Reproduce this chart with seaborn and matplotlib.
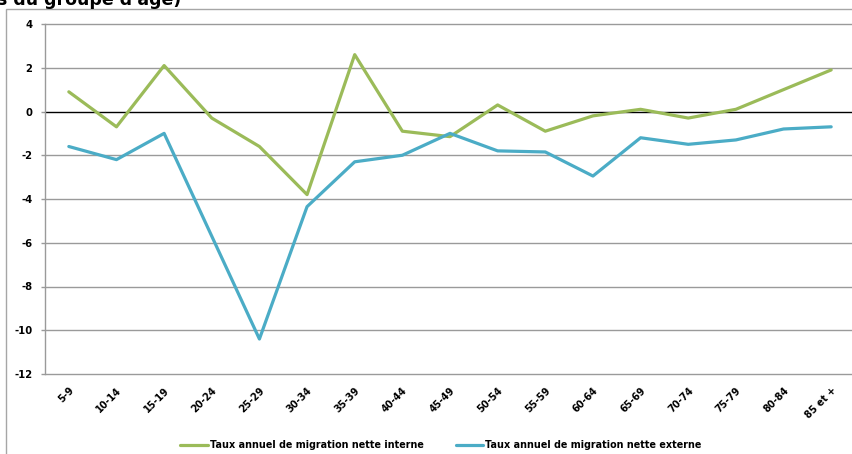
import matplotlib
matplotlib.use("Agg")
import matplotlib.pyplot as plt
from matplotlib.patches import Rectangle
from matplotlib.lines import Line2D
import numpy as np
import pandas as pd
import seaborn as sns

# Age groups and annual net migration rates
age_groups = ["5-9", "10-14", "15-19", "20-24", "25-29", "30-34", "35-39",
              "40-44", "45-49", "50-54", "55-59", "60-64", "65-69", "70-74",
              "75-79", "80-84", "85 et +"]
internal_rate = [0.9, -0.7, 2.1, -0.3, -1.6, -3.8, 2.6, -0.9, -1.15, 0.3,
                 -0.9, -0.2, 0.1, -0.3, 0.1, 1.0, 1.9]
external_rate = [-1.6, -2.2, -1.0, -5.7, -10.4, -4.35, -2.3, -2.0, -1.0, -1.8,
                 -1.85, -2.95, -1.2, -1.5, -1.3, -0.8, -0.7]
series_names = ["Taux annuel de migration nette interne",
                "Taux annuel de migration nette externe"]
y_ticks = [4, 2, 0, -2, -4, -6, -8, -10, -12]

GREEN = "#9BBB59"
BLUE = "#4BACC6"
GRID = "#9a9a9a"

pos = np.arange(len(age_groups))
df = pd.concat([
    pd.DataFrame({"pos": pos, "taux": internal_rate, "serie": series_names[0]}),
    pd.DataFrame({"pos": pos, "taux": external_rate, "serie": series_names[1]}),
])

sns.set_theme(style="white")
plt.rcParams["font.family"] = ["DejaVu Sans"]
plt.rcParams["text.color"] = "black"
plt.rcParams["xtick.color"] = "black"
plt.rcParams["ytick.color"] = "black"

fig = plt.figure(figsize=(8.53, 4.54), dpi=100)
W, H = 853, 454
ax = fig.add_axes([45 / W, 1 - 374 / H, (855 - 45) / W, (374 - 24) / H])

# outer chart frame
fig.patches.append(Rectangle((6 / W, -0.05), 1.0, (454 - 9.5) / H + 0.05,
                             transform=fig.transFigure, fill=False,
                             edgecolor="#a6a6a6", linewidth=1.0, zorder=0))

# partially visible title
fig.text(-0.004, 1 - 5 / H, "s du groupe d'âge)", fontsize=12.5,
         fontweight="bold", ha="left", va="baseline", color="black")

# horizontal gridlines
for v in y_ticks:
    ax.axhline(v, color="black" if v == 0 else GRID,
               linewidth=1.0, zorder=1, clip_on=False)

sns.lineplot(data=df, x="pos", y="taux", hue="serie",
             palette=[GREEN, BLUE], linewidth=2.3, sort=False,
             ax=ax, legend=False, zorder=3)

ax.set_xlim(-0.5, len(age_groups) - 0.5)
ax.set_ylim(-12, 4)
ax.set_yticks(y_ticks)
ax.set_yticklabels([str(v) for v in y_ticks], fontsize=7.2, fontweight="bold",
                   color="black")
ax.set_xticks(pos)
ax.set_xticklabels(age_groups, fontsize=7.0, fontweight="bold", color="black",
                   rotation=45, ha="right", rotation_mode="anchor")
ax.tick_params(axis="y", length=3, width=1, color=GRID, pad=6, left=True)
ax.tick_params(axis="x", length=0, pad=8)
ax.set_xlabel("")
ax.set_ylabel("")
for side in ["top", "right", "bottom"]:
    ax.spines[side].set_visible(False)
ax.spines["left"].set_color(GRID)
ax.spines["left"].set_linewidth(1.0)
ax.set_facecolor("none")

handles = [Line2D([], [], color=GREEN, linewidth=2.3),
           Line2D([], [], color=BLUE, linewidth=2.3)]
fig.legend(handles, series_names, loc="center",
           bbox_to_anchor=(441 / W, 1 - 445 / H),
           ncol=2, frameon=False, handlelength=2.9, handletextpad=0.2,
           columnspacing=3.3, prop={"size": 6.9, "weight": "bold"})

fig.savefig("out.png", dpi=100)
